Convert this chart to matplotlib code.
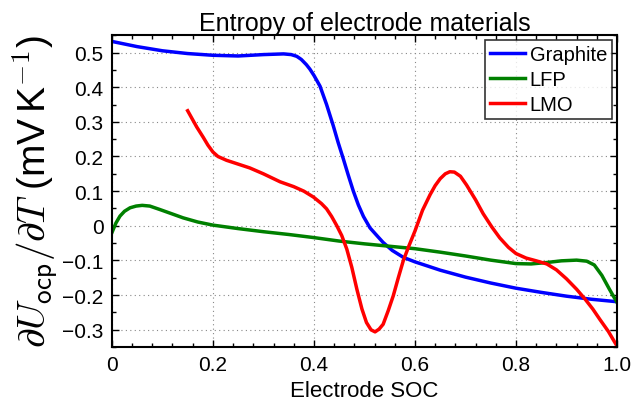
import matplotlib
matplotlib.use("Agg")
import matplotlib.pyplot as plt
from matplotlib.ticker import MultipleLocator

plt.rcParams['font.family'] = ['Liberation Sans', 'DejaVu Sans']
plt.rcParams['mathtext.fontset'] = 'cm'

graphite_x = [0, 0.05, 0.1, 0.15, 0.2, 0.25, 0.3, 0.34, 0.355, 0.366, 0.375, 0.385, 0.392,
              0.4, 0.412, 0.425, 0.438, 0.448, 0.458, 0.468, 0.478, 0.488, 0.498, 0.511,
              0.527, 0.537, 0.555, 0.577, 0.6, 0.623, 0.65, 0.7, 0.75, 0.8, 0.85, 0.9, 0.95, 1.0]
graphite_y = [0.532, 0.517, 0.505, 0.497, 0.492, 0.490, 0.494, 0.496, 0.494, 0.489, 0.480,
              0.465, 0.452, 0.434, 0.403, 0.350, 0.290, 0.240, 0.194, 0.146, 0.100, 0.060,
              0.027, -0.006, -0.032, -0.048, -0.071, -0.091, -0.104, -0.115, -0.128, -0.148,
              -0.165, -0.180, -0.192, -0.203, -0.212, -0.219]

lfp_x = [0, 0.008, 0.016, 0.025, 0.036, 0.048, 0.06, 0.075, 0.095, 0.12, 0.141, 0.17, 0.2,
         0.25, 0.3, 0.35, 0.4, 0.45, 0.5, 0.55, 0.6, 0.65, 0.7, 0.75, 0.8, 0.83, 0.86, 0.89,
         0.92, 0.94, 0.955, 0.97, 0.985, 1.0]
lfp_y = [-0.020, 0.008, 0.028, 0.042, 0.052, 0.057, 0.059, 0.057, 0.047, 0.034, 0.023, 0.011,
         0.002, -0.008, -0.017, -0.025, -0.034, -0.044, -0.052, -0.059, -0.066, -0.076, -0.087,
         -0.099, -0.109, -0.110, -0.106, -0.101, -0.099, -0.102, -0.113, -0.143, -0.183, -0.221]

lmo_x = [0.15, 0.168, 0.181, 0.19, 0.2, 0.21, 0.227, 0.25, 0.273, 0.3, 0.333, 0.36, 0.38,
         0.399, 0.415, 0.425, 0.435, 0.445, 0.455, 0.465, 0.475, 0.485, 0.495, 0.504, 0.513,
         0.521, 0.529, 0.537, 0.547, 0.557, 0.567, 0.577, 0.588, 0.6, 0.615, 0.63, 0.64, 0.65,
         0.66, 0.669, 0.678, 0.69, 0.702, 0.72, 0.735, 0.752, 0.768, 0.785, 0.8, 0.82, 0.84,
         0.861, 0.88, 0.9, 0.92, 0.937, 0.952, 0.966, 0.983, 1.0]
lmo_y = [0.332, 0.285, 0.255, 0.233, 0.213, 0.200, 0.189, 0.178, 0.167, 0.150, 0.127, 0.113,
         0.100, 0.083, 0.064, 0.049, 0.027, 0.001, -0.028, -0.067, -0.120, -0.183, -0.240,
         -0.279, -0.300, -0.306, -0.298, -0.284, -0.245, -0.202, -0.150, -0.100, -0.058,
         -0.015, 0.045, 0.090, 0.116, 0.136, 0.150, 0.156, 0.155, 0.143, 0.118, 0.075, 0.035,
         -0.003, -0.035, -0.062, -0.080, -0.093, -0.101, -0.110, -0.127, -0.153, -0.183,
         -0.212, -0.240, -0.270, -0.305, -0.347]

x_ticks = [0, 0.2, 0.4, 0.6, 0.8, 1.0]
x_ticklabels = ['0', '0.2', '0.4', '0.6', '0.8', '1.0']
y_ticks = [-0.3, -0.2, -0.1, 0, 0.1, 0.2, 0.3, 0.4, 0.5]
y_ticklabels = ['\u22120.3', '\u22120.2', '\u22120.1', '0', '0.1', '0.2', '0.3', '0.4', '0.5']

fig = plt.figure(figsize=(6.43, 4.02), dpi=100)
ax = fig.add_axes([0.174, 0.134, 0.7856, 0.776])

ax.plot(graphite_x, graphite_y, color=(0, 0, 1), lw=2.5, label='Graphite')
ax.plot(lfp_x, lfp_y, color=(0, 0.5, 0), lw=2.5, label='LFP')
ax.plot(lmo_x, lmo_y, color=(1, 0, 0), lw=2.5, label='LMO')

ax.set_xlim(0, 1.0)
ax.set_ylim(-0.35, 0.55)
ax.set_xticks(x_ticks)
ax.set_xticklabels(x_ticklabels, fontsize=15)
ax.set_yticks(y_ticks)
ax.set_yticklabels(y_ticklabels, fontsize=15)
ax.xaxis.set_minor_locator(MultipleLocator(0.04))
ax.yaxis.set_minor_locator(MultipleLocator(0.05))
ax.tick_params(which='both', direction='in', top=True, right=True, width=1.0)
ax.tick_params(which='major', length=5, pad=6)
ax.tick_params(which='minor', length=3)
for s in ax.spines.values():
    s.set_linewidth(1.5)

ax.grid(True, which='major', linestyle=(0, (1, 3)), color='#888888', linewidth=0.8)

ax.set_title('Entropy of electrode materials', fontsize=18, pad=4)
ax.set_xlabel('Electrode SOC', fontsize=16, labelpad=4)
ax.set_ylabel(r'$\partial U_{\mathsf{ocp}}/\partial T$ (mV$\,$K$^{-1}$)', fontsize=28, labelpad=2)

leg = ax.legend(loc='upper right', fontsize=14.5, frameon=True, fancybox=False,
                edgecolor='black', handlelength=1.7, handletextpad=0.25,
                borderpad=0.25, labelspacing=0.3, borderaxespad=0.25)
leg.get_frame().set_linewidth(1.2)

fig.savefig('out.png', dpi=100)
